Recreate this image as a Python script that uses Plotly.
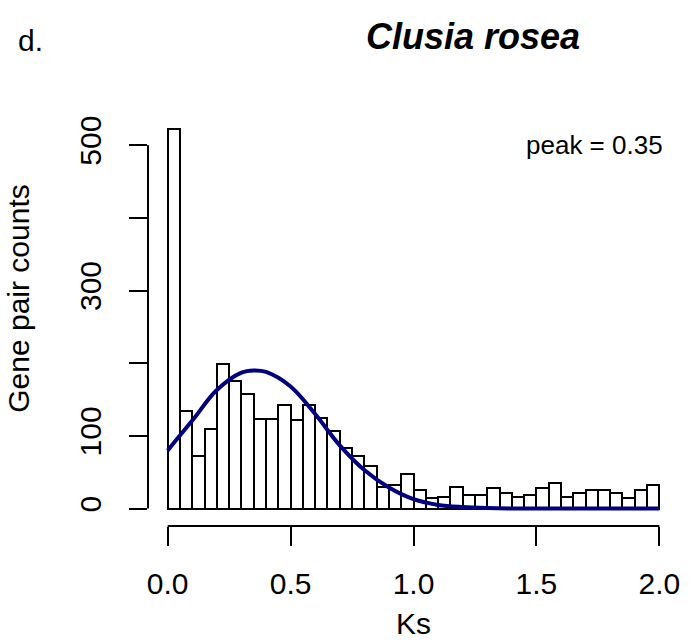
import plotly.graph_objects as go

# Histogram of Ks (bin width 0.05, 0 to 2)
bin_width = 0.05
bin_starts = [round(i * bin_width, 2) for i in range(40)]
counts = [522, 134, 72, 110, 199, 175, 158, 123, 123, 142,
          122, 142, 124, 107, 83, 73, 58, 29, 33, 47,
          26, 14, 16, 30, 18, 18, 28, 22, 16, 18,
          28, 35, 16, 22, 25, 25, 21, 15, 26, 33]

# Fitted curve
curve_x = [0.0, 0.1, 0.2, 0.3, 0.35, 0.4, 0.5, 0.6, 0.7, 0.8, 0.9, 1.0,
           1.1, 1.2, 1.3, 1.4, 1.6, 1.8, 2.0]
curve_y = [80, 121, 163, 187, 190, 188, 168, 130, 87, 53, 29, 13,
           5, 2, 0.7, 0.2, 0, 0, 0]

x_ticks = [0.0, 0.5, 1.0, 1.5, 2.0]
x_ticklabels = ["0.0", "0.5", "1.0", "1.5", "2.0"]
y_ticks = [0, 100, 200, 300, 400, 500]
y_ticklabels = ["0", "100", "", "300", "", "500"]

FONT = "Liberation Sans, Arial, Helvetica, sans-serif"

bin_centers = [s + bin_width / 2 for s in bin_starts]

fig = go.Figure()
fig.add_trace(go.Bar(
    x=bin_centers, y=counts, width=[bin_width] * len(counts),
    marker=dict(color="white", line=dict(color="black", width=2)),
    showlegend=False, hoverinfo="x+y",
))
fig.add_trace(go.Scatter(
    x=curve_x, y=curve_y, mode="lines",
    line=dict(color="#000080", width=4, shape="spline"),
    showlegend=False,
))

fig.update_layout(
    width=694, height=644,
    margin=dict(l=148, r=15, t=55, b=118),
    paper_bgcolor="white", plot_bgcolor="white",
    font=dict(family=FONT, size=30, color="black"),
    bargap=0,
    xaxis=dict(
        range=[-0.08, 2.08], tickmode="array", tickvals=x_ticks,
        ticktext=x_ticklabels, ticks="outside", ticklen=19, tickwidth=2,
        tickcolor="black", showline=False, showgrid=False, zeroline=False,
        ticklabelstandoff=12, tickfont=dict(size=30),
    ),
    yaxis=dict(
        range=[-24, 624], tickmode="array", tickvals=y_ticks,
        ticktext=y_ticklabels, ticks="outside", ticklen=18, tickwidth=2,
        tickcolor="black", showline=False, showgrid=False, zeroline=False,
        tickangle=-90, ticklabelstandoff=16, tickfont=dict(size=30),
    ),
    shapes=[
        dict(type="line", xref="x", yref="paper", x0=x_ticks[0], x1=x_ticks[-1],
             y0=0, y1=0, line=dict(color="black", width=2)),
        dict(type="line", xref="paper", yref="y", x0=0, x1=0,
             y0=y_ticks[0], y1=y_ticks[-1], line=dict(color="black", width=2)),
    ],
    annotations=[
        dict(text="<b><i>Clusia rosea</i></b>", xref="paper", yref="paper",
             x=0.612, y=(526.5 - 36) / 471.5, xanchor="center", yanchor="middle",
             showarrow=False, font=dict(size=36, family=FONT)),
        dict(text="d.", xref="paper", yref="paper",
             x=(16 - 148) / 531, y=(526.5 - 40) / 471.5, xanchor="left", yanchor="middle",
             showarrow=False, font=dict(size=30, family=FONT)),
        dict(text="peak = 0.35", xref="x", yref="y",
             x=2.024, y=500, xanchor="right", yanchor="middle",
             showarrow=False, font=dict(size=26, family=FONT)),
        dict(text="Gene pair counts", xref="paper", yref="paper",
             x=(19 - 148) / 531, y=(526.5 - 299) / 471.5, xanchor="center", yanchor="middle",
             textangle=-90, showarrow=False, font=dict(size=30, family=FONT)),
        dict(text="Ks", xref="x", yref="paper",
             x=1.0, y=(526.5 - 624) / 471.5, xanchor="center", yanchor="middle",
             showarrow=False, font=dict(size=30, family=FONT)),
    ],
)

fig.write_html("out.html")
